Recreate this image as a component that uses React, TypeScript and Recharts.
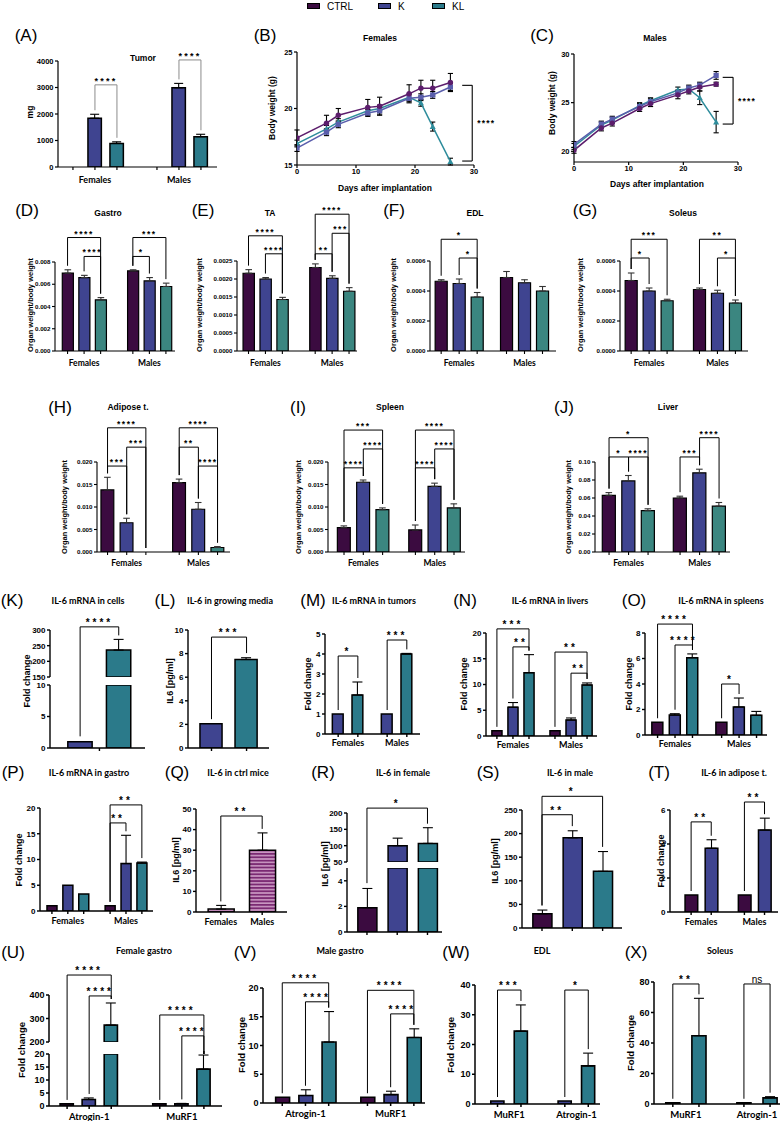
import React from 'react';
import { ComposedChart, Bar, Line, XAxis, YAxis, ErrorBar, Cell, ReferenceLine } from 'recharts';

const ARIAL = '"Liberation Sans", Arial, sans-serif';
const CAL = 'Lato, "Open Sans", sans-serif';

const PUR = '#3b0b40';
const BLU = '#3f4490';
const TEA = '#2b7a8a';
const TEA2 = '#3b8680';
const L_PUR = '#5c1d6c';
const L_BLU = '#5a5eac';
const L_TEA = '#2f8d9c';

// ---- data ----
const sexes = ['Females', 'Males'];
const genesU = ['Atrogin-1', 'MuRF1'];
const genesW = ['MuRF1', 'Atrogin-1'];

const tumorMg = [null, 1840, 890, null, 2990, 1145];
const tumorSd = [0, 150, 60, 0, 165, 90];

const days = [0, 5, 7, 12, 14, 19, 21, 23, 26];
const femCtrl = [17.4, 18.7, 19.4, 20.1, 20.2, 21.3, 21.8, 21.8, 22.3];
const femCtrlSd = [0.7, 0.7, 0.6, 0.7, 0.8, 0.8, 0.7, 0.7, 0.8];
const femK = [16.5, 17.9, 18.6, 19.6, 19.8, 20.9, 21.0, 21.2, 21.9];
const femKSd = [0.3, 0.3, 0.3, 0.3, 0.3, 0.3, 0.3, 0.3, 0.3];
const femKL = [16.9, 18.2, 18.8, 19.8, 20.0, 21.0, 20.5, 18.4, 15.3];
const femKLSd = [0.3, 0.3, 0.3, 0.3, 0.3, 0.3, 0.3, 0.4, 0.3];
const malCtrl = [20.1, 22.4, 22.9, 24.4, 24.9, 25.8, 26.2, 26.6, 26.9];
const malCtrlSd = [0.3, 0.3, 0.3, 0.3, 0.3, 0.4, 0.3, 0.4, 0.2];
const malK = [20.7, 22.8, 23.3, 24.6, 25.1, 26.0, 26.5, 26.8, 27.8];
const malKSd = [0.3, 0.3, 0.3, 0.3, 0.3, 0.3, 0.3, 0.3, 0.4];
const malKL = [20.5, 22.7, 23.2, 24.7, 25.2, 26.3, 26.4, 25.5, 23.0];
const malKLSd = [0.3, 0.3, 0.3, 0.3, 0.3, 0.3, 0.3, 0.7, 1.1];

// bar order: Females CTRL, K, KL, Males CTRL, K, KL
const gastroW = [0.0070, 0.0066, 0.0046, 0.0072, 0.0063, 0.0058];
const gastroSd = [0.0003, 0.0002, 0.0002, 0.0001, 0.0003, 0.0003];
const taW = [0.00216, 0.0020, 0.00143, 0.00232, 0.00202, 0.00166];
const taSd = [0.0001, 0.00004, 0.00006, 0.0001, 0.00007, 0.0001];
const edlW = [0.000465, 0.00045, 0.00036, 0.00049, 0.000455, 0.0004];
const edlSd = [0.00001, 0.00003, 0.00003, 0.00004, 0.00002, 0.00003];
const solW = [0.00047, 0.0004, 0.000335, 0.00041, 0.000385, 0.00032];
const solSd = [0.00005, 0.00002, 0.00001, 0.00001, 0.00002, 0.00002];
const adiW = [0.0138, 0.0065, 0, 0.0154, 0.0095, 0.001];
const adiSd = [0.0028, 0.001, 0, 0.0008, 0.0015, 0.0002];
const splW = [0.0054, 0.0155, 0.0094, 0.0049, 0.0146, 0.0098];
const splSd = [0.0004, 0.0005, 0.0004, 0.0011, 0.0007, 0.0009];
const livW = [0.063, 0.079, 0.046, 0.060, 0.088, 0.051];
const livSd = [0.003, 0.006, 0.002, 0.002, 0.004, 0.004];

const cellsFc = [1, 236];
const cellsSd = [0, 34];
const mediaPg = [2.05, 7.5];
const mediaSd = [0, 0.15];
const tumFc = [1, 1.95, 1, 4.0];
const tumFcSd = [0, 0.65, 0, 0.03];
const livFc = [1, 5.6, 12.3, 1, 3.1, 9.9];
const livFcSd = [0, 0.9, 3.5, 0, 0.4, 0.4];
const splFc = [1, 1.57, 6.06, 1, 2.2, 1.55];
const splFcSd = [0, 0.1, 0.3, 0, 0.7, 0.3];
const gasFc = [1, 5.0, 3.3, 1, 9.2, 9.3];
const gasFcSd = [0, 0, 0, 0, 5.5, 0.2];
const ctrlPg = [1.4, 30];
const ctrlPgSd = [1.8, 8.4];
const femPg = [1.9, 100, 107];
const femPgSd = [1.5, 23, 48];
const malPg = [30, 191, 120];
const malPgSd = [8, 15, 42];
const adiFc = [1, 3.75, 1, 4.82];
const adiFcSd = [0, 0.5, 0, 0.7];
const femGas = [0.8, 2.5, 272, 0.8, 0.8, 14.2];
const femGasSd = [0, 0.6, 94, 0, 0.2, 5.4];
const malGas = [1, 1.3, 10.6, 1, 1.45, 11.4];
const malGasSd = [0, 1.0, 5.3, 0, 0.6, 1.5];
const edlFc = [1, 24.5, 1, 12.8];
const edlFcSd = [0, 8.8, 0, 4.3];
const solFc = [0.8, 44.8, 0.8, 4.0];
const solFcSd = [0, 24.5, 0, 0.8];

// significance brackets: [bar i, bar j, label, height]
const bkTumor = [[1, 2, '****', 3100], [4, 5, '****', 4040]];
const bkGastro = [[0, 2, '****', 0.0102], [1, 2, '****', 0.0085], [3, 5, '***', 0.0102], [3, 4, '*', 0.0085]];
const bkTa = [[0, 2, '****', 0.0032], [1, 2, '****', 0.0027], [3, 5, '****', 0.0038], [4, 5, '***', 0.00327], [3, 4, '**', 0.0027]];
const bkEdl = [[0, 2, '*', 0.000745], [1, 2, '*', 0.00062]];
const bkSol = [[0, 2, '***', 0.000745], [0, 1, '*', 0.00062], [3, 5, '**', 0.000745], [4, 5, '*', 0.00062]];
const bkAdi = [[0, 2, '****', 0.0276], [1, 2, '***', 0.0233], [0, 1, '***', 0.0191], [3, 5, '****', 0.0276], [3, 4, '**', 0.0233], [4, 5, '****', 0.0191]];
const bkSpl = [[0, 2, '***', 0.0271], [1, 2, '****', 0.0229], [0, 1, '****', 0.0187], [3, 5, '****', 0.0271], [4, 5, '****', 0.0229], [3, 4, '****', 0.0187]];
const bkLiv = [[0, 2, '*', 0.127], [0, 1, '*', 0.1056], [1, 2, '****', 0.1056], [4, 5, '****', 0.127], [3, 4, '***', 0.1056]];
const bkCells = [[0, 1, '****', 310]];
const bkMedia = [[0, 1, '***', 9.4]];
const bkTum = [[0, 1, '*', 3.9], [2, 3, '***', 4.7]];
const bkLivFc = [[0, 2, '***', 20.8], [1, 2, '**', 17.3], [3, 5, '**', 16.3], [4, 5, '**', 12.2]];
const bkSplFc = [[0, 2, '****', 8.7], [1, 2, '****', 7.06], [3, 4, '*', 4.0]];
const bkGasFc = [[3, 5, '**', 20.6], [3, 4, '**', 17.1]];
const bkCtrlPg = [[0, 1, '**', 46.6]];
const bkFemPg = [[0, 2, '*', 215]];
const bkMalPg = [[0, 2, '*', 279], [0, 1, '**', 240]];
const bkAdiFc = [[0, 1, '**', 5.3], [2, 3, '**', 6.47]];
const bkFemGas = [[0, 2, '****', 485], [1, 2, '****', 396], [3, 5, '****', 315], [4, 5, '****', 226]];
const bkMalGas = [[0, 2, '****', 20.9], [1, 2, '****', 17.6], [3, 5, '****', 19.6], [4, 5, '****', 15.5]];
const bkEdlFc = [[0, 1, '***', 38.3], [2, 3, '*', 38.3]];
const bkSolFc = [[0, 1, '**', 78.7], [2, 3, 'ns', 78.7]];

// body-weight brackets: [x from, x to, y top, y bottom]
const bkFemWeight = [28.0, 29.7, 22.05, 15.35];
const bkMalWeight = [27.2, 29.1, 27.6, 22.8];

// ---- styles ----
const S_A = { tick: 7.5, grp: 9, star: 9, ls: 2.2, axis: 1.2, cap: 4.5, barW: 1.5, frac: 0.61, lg: 5.8, bk: '#8c8c8c', err: '#000' };
const S_2 = { tick: 6.2, grp: 8.5, star: 8.5, ls: 1.6, axis: 1.1, cap: 3.3, barW: 1.2, frac: 0.67, lg: 5, bk: '#000', err: '#333' };
const S_3 = { ...S_2, lg: 4 };
const S_4 = { tick: 8, grp: 9, star: 10, ls: 3, axis: 1.4, cap: 5, barW: 1.5, frac: 0.63, lg: 1.9, bk: '#000', err: '#000' };
const S_5 = { ...S_4, lg: 2.9 };
const S_6 = { tick: 9, grp: 9.5, star: 10, ls: 3, axis: 1.5, cap: 5, barW: 1.6, frac: 0.6, lg: 3.7, bk: '#000', err: '#000' };

const f3 = (v: number) => v.toFixed(3);
const f4 = (v: number) => v.toFixed(4);
const f2 = (v: number) => v.toFixed(2);
const tick = (a: number, b: number, s: number) => {
  const out: number[] = [];
  for (let v = a; v <= b + s / 1000; v += s) out.push(+v.toFixed(6));
  return out;
};

const hatch = (
  <defs>
    <pattern id="qHatch" width="6" height="3.4" patternUnits="userSpaceOnUse">
      <rect width="6" height="3.4" fill="#c997c1" />
      <rect width="6" height="1.8" fill="#7b2a73" />
    </pattern>
  </defs>
);

const F3 = [PUR, BLU, TEA2, PUR, BLU, TEA2];
const F3b = [PUR, BLU, TEA, PUR, BLU, TEA];

const panels: any[] = [
  { x0: 58, x1: 217, seg: { min: 0, max: 4000, ticks: tick(0, 4000, 1000), top: 61, bot: 167 }, vals: tumorMg, sd: tumorSd, fills: F3b, n: 3, gap: 0.82, padL: 0.68, padR: 0.73, groups: sexes, bk: bkTumor, st: S_A },
  { x0: 55, x1: 175, seg: { min: 0, max: 0.008, ticks: tick(0, 0.008, 0.002), top: 262, bot: 351 }, fmt: f3, vals: gastroW, sd: gastroSd, fills: F3, n: 3, gap: 0.95, padL: 0.76, padR: 0.55, groups: sexes, bk: bkGastro, st: S_2 },
  { x0: 237, x1: 357, seg: { min: 0, max: 0.0025, ticks: tick(0, 0.0025, 0.0005), top: 261, bot: 351 }, fmt: f4, vals: taW, sd: taSd, fills: F3, n: 3, gap: 0.94, padL: 0.68, padR: 0.47, groups: sexes, bk: bkTa, st: S_2 },
  { x0: 430, x1: 556, seg: { min: 0, max: 0.0006, ticks: tick(0, 0.0006, 0.0002), top: 261, bot: 351 }, fmt: f4, vals: edlW, sd: edlSd, fills: F3, n: 3, gap: 0.63, padL: 0.62, padR: 0.75, groups: sexes, bk: bkEdl, st: S_2 },
  { x0: 620, x1: 748, seg: { min: 0, max: 0.0006, ticks: tick(0, 0.0006, 0.0002), top: 261, bot: 351 }, fmt: f4, vals: solW, sd: solSd, fills: F3, n: 3, gap: 0.8, padL: 0.62, padR: 0.7, groups: sexes, bk: bkSol, st: S_2 },
  { x0: 97, x1: 230, seg: { min: 0, max: 0.02, ticks: tick(0, 0.02, 0.005), top: 462, bot: 552 }, fmt: f3, vals: adiW, sd: adiSd, fills: F3, n: 3, gap: 0.74, padL: 0.55, padR: 0.65, groups: sexes, bk: bkAdi, st: S_3 },
  { x0: 328, x1: 465, seg: { min: 0, max: 0.02, ticks: tick(0, 0.02, 0.005), top: 462, bot: 552 }, fmt: f3, vals: splW, sd: splSd, fills: F3, n: 3, gap: 0.7, padL: 0.83, padR: 0.57, groups: sexes, bk: bkSpl, st: S_3 },
  { x0: 595, x1: 730, seg: { min: 0, max: 0.1, ticks: tick(0, 0.1, 0.02), top: 462, bot: 552 }, fmt: f2, vals: livW, sd: livSd, fills: F3, n: 3, gap: 0.64, padL: 0.72, padR: 0.56, groups: sexes, bk: bkLiv, st: S_3 },
  { x0: 50, x1: 145, seg: { min: 0, max: 10, ticks: [0, 5, 10], top: 685, bot: 732 }, up: { min: 150, max: 300, ticks: [150, 200, 250, 300], top: 630, bot: 677 }, vals: cellsFc, sd: cellsSd, fills: [BLU, TEA], n: 2, gap: 0, padL: 0.78, padR: 0.68, tickMode: 'center', bk: bkCells, st: S_4 },
  { x0: 188, x1: 269, seg: { min: 0, max: 10, ticks: tick(0, 10, 2), top: 630, bot: 732 }, vals: mediaPg, sd: mediaSd, fills: [BLU, TEA], n: 2, gap: 0, padL: 0.67, padR: 0.64, bk: bkMedia, st: S_4 },
  { x0: 325, x1: 420, seg: { min: 0, max: 5, ticks: tick(0, 5, 1), top: 634, bot: 734 }, vals: tumFc, sd: tumFcSd, fills: [BLU, TEA, BLU, TEA], n: 2, gap: 0.49, padL: 0.67, padR: 0.67, groups: sexes, bk: bkTum, st: S_4, frac: 0.55 },
  { x0: 486, x1: 597, seg: { min: 0, max: 20, ticks: tick(0, 20, 5), top: 633, bot: 736 }, vals: livFc, sd: livFcSd, fills: F3b, n: 3, gap: 0.62, padL: 0.68, padR: 0.62, groups: sexes, bk: bkLivFc, st: S_4 },
  { x0: 645, x1: 767, seg: { min: 0, max: 8, ticks: tick(0, 8, 2), top: 633, bot: 735 }, vals: splFc, sd: splFcSd, fills: F3b, n: 3, gap: 0.67, padL: 0.72, padR: 0.6, groups: sexes, bk: bkSplFc, st: S_4 },
  { x0: 40, x1: 153, seg: { min: 0, max: 20, ticks: tick(0, 20, 5), top: 808, bot: 911 }, vals: gasFc, sd: gasFcSd, fills: F3b, n: 3, gap: 0.66, padL: 0.75, padR: 0.7, groups: sexes, bk: bkGasFc, st: S_5 },
  { x0: 196, x1: 287, seg: { min: 0, max: 50, ticks: tick(0, 50, 10), top: 809, bot: 912 }, vals: ctrlPg, sd: ctrlPgSd, fills: ['url(#qHatch)', 'url(#qHatch)'], n: 1, gap: 0, padL: 0.6, padR: 0.6, groups: sexes, bk: bkCtrlPg, st: S_5, defs: hatch },
  { x0: 347, x1: 442, seg: { min: 0, max: 5, ticks: [0, 2, 4], top: 868, bot: 916 }, up: { min: 50, max: 200, ticks: tick(50, 200, 50), top: 813, bot: 862 }, vals: femPg, sd: femPgSd, fills: F3b, n: 3, gap: 0, padL: 0.66, padR: 0.48, bk: bkFemPg, st: S_5 },
  { x0: 522, x1: 622, seg: { min: 0, max: 250, ticks: tick(0, 250, 50), top: 810, bot: 912 }, vals: malPg, sd: malPgSd, fills: F3b, n: 3, gap: 0, padL: 0.66, padR: 0.64, bk: bkMalPg, st: S_5 },
  { x0: 670, x1: 778, seg: { min: 0, max: 6, ticks: tick(0, 6, 2), top: 810, bot: 912 }, vals: adiFc, sd: adiFcSd, fills: [PUR, BLU, PUR, BLU], n: 2, gap: 0.65, padL: 1.05, padR: 0.67, groups: sexes, bk: bkAdiFc, st: S_5 },
  { x0: 49, x1: 222, seg: { min: 0, max: 20, ticks: tick(0, 20, 5), top: 1054, bot: 1106 }, up: { min: 200, max: 400, ticks: tick(200, 400, 100), top: 995, bot: 1042 }, vals: femGas, sd: femGasSd, fills: F3b, n: 3, gap: 1.2, padL: 0.82, padR: 0.82, groups: genesU, bk: bkFemGas, st: S_6 },
  { x0: 263, x1: 425, seg: { min: 0, max: 20, ticks: tick(0, 20, 5), top: 988, bot: 1103 }, vals: malGas, sd: malGasSd, fills: F3b, n: 3, gap: 0.67, padL: 0.83, padR: 0.48, groups: genesU, bk: bkMalGas, st: S_6 },
  { x0: 475, x1: 600, seg: { min: 0, max: 40, ticks: tick(0, 40, 10), top: 985, bot: 1104 }, vals: edlFc, sd: edlFcSd, fills: [BLU, TEA, BLU, TEA], n: 2, gap: 0.87, padL: 0.96, padR: 0.5, groups: genesW, bk: bkEdlFc, st: S_6, frac: 0.56 },
  { x0: 654, x1: 780, seg: { min: 0, max: 80, ticks: tick(0, 80, 20), top: 982, bot: 1104 }, vals: solFc, sd: solFcSd, fills: [BLU, TEA, BLU, TEA], n: 2, gap: 0.72, padL: 0.72, padR: 0.38, groups: genesW, bk: bkSolFc, st: S_6, frac: 0.54 },
];

const ppu = (g: any) => (g.bot - g.top) / (g.max - g.min);

function BarSeg({ c, part }: { c: any; part: 'full' | 'upper' | 'lower' }) {
  const s = part === 'upper' ? c.up : c.seg;
  const st = c.st;
  const slots: number[] = c.vals.map((_: any, i: number) => Math.floor(i / c.n) * (c.n + c.gap) + (i % c.n));
  const last = slots[slots.length - 1];
  const dom: [number, number] = [-c.padL, last + c.padR];
  const pxSlot = (c.x1 - c.x0) / (dom[1] - dom[0]);
  const rows = c.vals.map((v: number | null, i: number) => {
    const sd = c.sd[i];
    let val = v ?? s.min;
    let e: number[] | undefined = v != null && sd > 0 ? [0, sd] : undefined;
    if (part === 'upper' && (v == null || v <= s.min)) { val = s.min; e = undefined; }
    if (part === 'lower' && v != null && v > s.max) { val = s.max; e = undefined; }
    return { s: slots[i], v: val, e };
  });

  const legEnd = (i: number) => {
    const t = (c.vals[i] ?? 0) + c.sd[i];
    if (c.up && t > c.seg.max) return { y: t + 4 / ppu(c.up), up: true };
    return { y: t + 4 / ppu(c.seg), up: false };
  };
  const lineProps = { stroke: st.bk, strokeWidth: 1, ifOverflow: 'visible' as const };
  const lines: any[] = [];
  (c.bk ?? []).forEach(([i, j, lab, yb]: any, k: number) => {
    if (part !== 'lower') {
      lines.push(
        <ReferenceLine key={`h${k}`} {...lineProps} segment={[{ x: slots[i], y: yb }, { x: slots[j], y: yb }]}
          label={{ value: lab, position: 'top', offset: 1, fontSize: st.star, fontWeight: lab === 'ns' ? 400 : 700, fill: '#000', fontFamily: ARIAL, letterSpacing: lab === 'ns' ? 0 : st.ls }} />
      );
      [i, j].forEach((idx: number, m: number) => {
        const le = legEnd(idx);
        const bottom = part === 'upper' && !le.up ? c.up.min - (c.seg.top - c.up.bot) / ppu(c.up) : le.y;
        lines.push(<ReferenceLine key={`v${k}${m}`} {...lineProps} segment={[{ x: slots[idx], y: yb }, { x: slots[idx], y: bottom }]} />);
      });
    } else {
      [i, j].forEach((idx: number, m: number) => {
        const le = legEnd(idx);
        if (!le.up) lines.push(<ReferenceLine key={`v${k}${m}`} {...lineProps} segment={[{ x: slots[idx], y: s.max }, { x: slots[idx], y: le.y }]} />);
      });
    }
  });

  const YW = 44;
  const MT = part === 'lower' ? 10 : 58;
  const MR = 26;
  const H1 = 4;
  const H2 = 16;
  const hideX = part === 'upper';
  const MB = hideX ? c.seg.top - c.up.bot + 2 : 2;
  const W = YW + (c.x1 - c.x0) + MR;
  const H = MT + (s.bot - s.top) + (hideX ? 0 : H1 + H2) + MB;
  const groups: string[] = c.groups ?? [];
  const groupC = groups.map((_, g) => g * (c.n + c.gap) + (c.n - 1) / 2);
  const xTicks = c.tickMode === 'center' ? [(slots[0] + last) / 2] : slots;
  const ax = { stroke: '#000', strokeWidth: st.axis };

  return (
    <div style={{ position: 'absolute', left: c.x0 - YW, top: s.top - MT, width: W, height: H }}>
      <ComposedChart width={W} height={H} data={rows} margin={{ top: MT, right: MR, bottom: MB, left: 0 }}>
        {c.defs}
        <XAxis xAxisId={0} type="number" dataKey="s" domain={dom} allowDataOverflow ticks={xTicks} interval={0}
          tickFormatter={() => ''} tickSize={3} height={H1} hide={hideX} axisLine={ax} tickLine={ax} />
        {!hideX && groups.length > 0 && (
          <XAxis xAxisId="g" type="number" dataKey="s" domain={dom} allowDataOverflow ticks={groupC} interval={0}
            tickFormatter={(_v: any, i: number) => groups[i]} axisLine={false} tickLine={false} tickSize={0}
            tickMargin={st.lg} height={H2} tick={{ fontSize: st.grp, fontWeight: 700, fill: '#000', fontFamily: CAL }} />
        )}
        <YAxis type="number" domain={[s.min, s.max]} allowDataOverflow ticks={s.ticks} interval={0}
          tickFormatter={c.fmt ?? ((v: number) => String(v))} width={YW} tickSize={3} tickMargin={1.5}
          axisLine={ax} tickLine={ax} tick={{ fontSize: st.tick, fontWeight: 700, fill: '#000', fontFamily: ARIAL }} />
        <Bar dataKey="v" barSize={pxSlot * (c.frac ?? st.frac)} stroke="#000" strokeWidth={st.barW} isAnimationActive={false}>
          {rows.map((_: any, i: number) => <Cell key={i} fill={c.fills[i]} />)}
          <ErrorBar dataKey="e" direction="y" width={st.cap} stroke={st.err} strokeWidth={1.1} />
        </Bar>
        {lines}
      </ComposedChart>
    </div>
  );
}

function BarPanel({ c }: { c: any }) {
  if (c.up) {
    return (
      <>
        <BarSeg c={c} part="upper" />
        <BarSeg c={c} part="lower" />
      </>
    );
  }
  return <BarSeg c={c} part="full" />;
}

const dotShape = (kind: string, col: string) => (p: any) => {
  const { cx, cy, index } = p;
  if (cx == null || cy == null) return <g key={index} />;
  if (kind === 'sq') return <rect key={index} x={cx - 2.6} y={cy - 2.6} width={5.2} height={5.2} fill={col} />;
  if (kind === 'tri') return <polygon key={index} points={`${cx},${cy - 3.2} ${cx - 3},${cy + 2.3} ${cx + 3},${cy + 2.3}`} fill={col} />;
  return <circle key={index} cx={cx} cy={cy} r={2.7} fill={col} />;
};

function WeightChart({ x0, x1, top, bot, yDom, yTicks, ctrl, ctrlSd, k, kSd, kl, klSd, bk }: any) {
  const rows = days.map((d, i) => ({ d, c: ctrl[i], ce: ctrlSd[i], k: k[i], ke: kSd[i], l: kl[i], le: klSd[i] }));
  const YW = 40, MT = 8, MR = 50, XH = 14, MB = 2;
  const W = YW + (x1 - x0) + MR;
  const H = MT + (bot - top) + XH + MB;
  const ax = { stroke: '#000', strokeWidth: 1.2 };
  const tk = { fontSize: 7.5, fontWeight: 700, fill: '#000', fontFamily: ARIAL };
  const series: [string, string, string, string][] = [['l', 'le', L_TEA, 'tri'], ['k', 'ke', L_BLU, 'sq'], ['c', 'ce', L_PUR, 'circ']];
  const lp = { stroke: '#000', strokeWidth: 1.1, ifOverflow: 'visible' as const };
  return (
    <div style={{ position: 'absolute', left: x0 - YW, top: top - MT, width: W, height: H }}>
      <ComposedChart width={W} height={H} data={rows} margin={{ top: MT, right: MR, bottom: MB, left: 0 }}>
        <XAxis type="number" dataKey="d" domain={[0, 30]} allowDataOverflow ticks={[0, 10, 20, 30]} interval={0}
          tickSize={3} tickMargin={1} height={XH} axisLine={ax} tickLine={ax} tick={tk} />
        <YAxis type="number" domain={yDom} allowDataOverflow ticks={yTicks} interval={0} width={YW}
          tickSize={3} tickMargin={1.5} axisLine={ax} tickLine={ax} tick={tk} />
        {series.map(([key, ek, col, kind]) => (
          <Line key={key} dataKey={key} stroke={col} strokeWidth={1.5} dot={dotShape(kind, col)} activeDot={false} isAnimationActive={false}>
            <ErrorBar dataKey={ek} direction="y" width={2.6} stroke="#000" strokeWidth={1.1} />
          </Line>
        ))}
        <ReferenceLine {...lp} segment={[{ x: bk[0], y: bk[2] }, { x: bk[1], y: bk[2] }]} />
        <ReferenceLine {...lp} segment={[{ x: bk[1], y: bk[2] }, { x: bk[1], y: bk[3] }]}
          label={{ value: '****', position: 'right', offset: 5, fontSize: 8.5, fontWeight: 700, fill: '#000', fontFamily: ARIAL, letterSpacing: 1.2 }} />
        <ReferenceLine {...lp} segment={[{ x: bk[1], y: bk[3] }, { x: bk[0], y: bk[3] }]} />
      </ComposedChart>
    </div>
  );
}

function Txt({ x, y, size, bold, font, rot, children }: any) {
  return (
    <div style={{
      position: 'absolute', left: x, top: y, transform: `translate(-50%, -50%)${rot ? ' rotate(-90deg)' : ''}`,
      fontSize: size, fontWeight: bold ? 700 : 400, fontFamily: font ?? ARIAL, whiteSpace: 'nowrap', lineHeight: 1, color: '#000',
    }}>{children}</div>
  );
}

const letters: [string, number, number][] = [
  ['(A)', 26, 35], ['(B)', 265, 35], ['(C)', 542, 35],
  ['(D)', 27, 210], ['(E)', 203, 210], ['(F)', 394, 210], ['(G)', 585, 210],
  ['(H)', 60, 407], ['(I)', 298, 407], ['(J)', 564, 407],
  ['(K)', 12, 600], ['(L)', 165, 600], ['(M)', 313, 600], ['(N)', 465, 600], ['(O)', 634, 600],
  ['(P)', 13, 772], ['(Q)', 177, 772], ['(R)', 323, 772], ['(S)', 488, 772], ['(T)', 659, 772],
  ['(U)', 13, 952], ['(V)', 245, 952], ['(W)', 456, 952], ['(X)', 636, 952],
];

const titlesArial: [string, number, number][] = [
  ['Tumor', 143, 58], ['Females', 380, 38], ['Males', 655, 38],
  ['Gastro', 108, 213], ['TA', 270, 213], ['EDL', 475, 213], ['Soleus', 683, 213],
  ['Adipose t.', 128, 407], ['Spleen', 390, 407], ['Liver', 668, 407],
];
const titlesCal: [string, number, number][] = [
  ['IL-6 mRNA in cells', 88, 600], ['IL-6 in growing media', 230, 600], ['IL-6 mRNA in tumors', 374, 600],
  ['IL-6 mRNA in livers', 550, 600], ['IL-6 mRNA in spleens', 721, 600],
  ['IL-6 mRNA in gastro', 89, 772], ['IL-6 in ctrl mice', 238, 772], ['IL-6 in female', 403, 772],
  ['IL-6 in male', 570, 772], ['IL-6 in adipose t.', 734, 772],
  ['Female gastro', 144, 950], ['Male gastro', 340, 950], ['EDL', 542, 950], ['Soleus', 720, 950],
];
const ow = 'Organ weight/body weight';
const fc = 'Fold change';
const pg = 'IL6 [pg/ml]';
const yLabels: [string, number, number, number][] = [
  ['mg', 30, 112, 8.5], ['Body weight (g)', 272, 108, 8.5], ['Body weight (g)', 552, 103, 8.5],
  [ow, 31, 305, 7.5], [ow, 200, 305, 7.5], [ow, 394, 305, 7.5], [ow, 581, 305, 7.5],
  [ow, 65, 507, 7.5], [ow, 299, 507, 7.5], [ow, 569, 507, 7.5],
  [fc, 27, 681, 9], [pg, 170, 681, 9], [fc, 308, 684, 9], [fc, 464, 684, 9], [fc, 629, 684, 9],
  [fc, 19, 860, 9], [pg, 176, 860, 9], [pg, 325, 864, 9], [pg, 495, 861, 9], [fc, 661, 861, 9],
  [fc, 22, 1050, 9.5], [fc, 242, 1045, 9.5], [fc, 451, 1045, 9.5], [fc, 631, 1043, 9.5],
];

const legendItems: [string, string, number][] = [['CTRL', PUR, 307], ['K', BLU, 378], ['KL', TEA, 432]];

export default function App() {
  return (
    <div style={{ position: 'absolute', left: 0, top: 0, width: 783, height: 1121, background: '#fff', overflow: 'hidden', fontFamily: ARIAL }}>
      {legendItems.map(([name, col, x]) => (
        <div key={name} style={{ position: 'absolute', left: x, top: 0, height: 12, display: 'flex', alignItems: 'center', gap: 7, fontSize: 10, fontFamily: ARIAL }}>
          <span style={{ display: 'inline-block', width: 11, height: 4, background: col, border: '1.3px solid #000' }} />
          <span>{name}</span>
        </div>
      ))}
      {letters.map(([t, x, y]) => <Txt key={t} x={x} y={y} size={17}>{t}</Txt>)}
      {titlesArial.map(([t, x, y], i) => <Txt key={'ta' + i} x={x} y={y} size={8.5} bold>{t}</Txt>)}
      {titlesCal.map(([t, x, y], i) => <Txt key={'tc' + i} x={x} y={y} size={9} bold font={CAL}>{t}</Txt>)}
      {yLabels.map(([t, x, y, s], i) => <Txt key={'y' + i} x={x} y={y} size={s} bold rot>{t}</Txt>)}
      <Txt x={385} y={188} size={8.5} bold>Days after implantation</Txt>
      <Txt x={657} y={184} size={8.5} bold>Days after implantation</Txt>

      <WeightChart x0={297} x1={474} top={52} bot={165} yDom={[15, 25]} yTicks={[15, 20, 25]}
        ctrl={femCtrl} ctrlSd={femCtrlSd} k={femK} kSd={femKSd} kl={femKL} klSd={femKLSd} bk={bkFemWeight} />
      <WeightChart x0={574} x1={738} top={54} bot={162} yDom={[18.9, 30]} yTicks={[20, 25, 30]}
        ctrl={malCtrl} ctrlSd={malCtrlSd} k={malK} kSd={malKSd} kl={malKL} klSd={malKLSd} bk={bkMalWeight} />

      {panels.map((c, i) => <BarPanel key={i} c={c} />)}
    </div>
  );
}
